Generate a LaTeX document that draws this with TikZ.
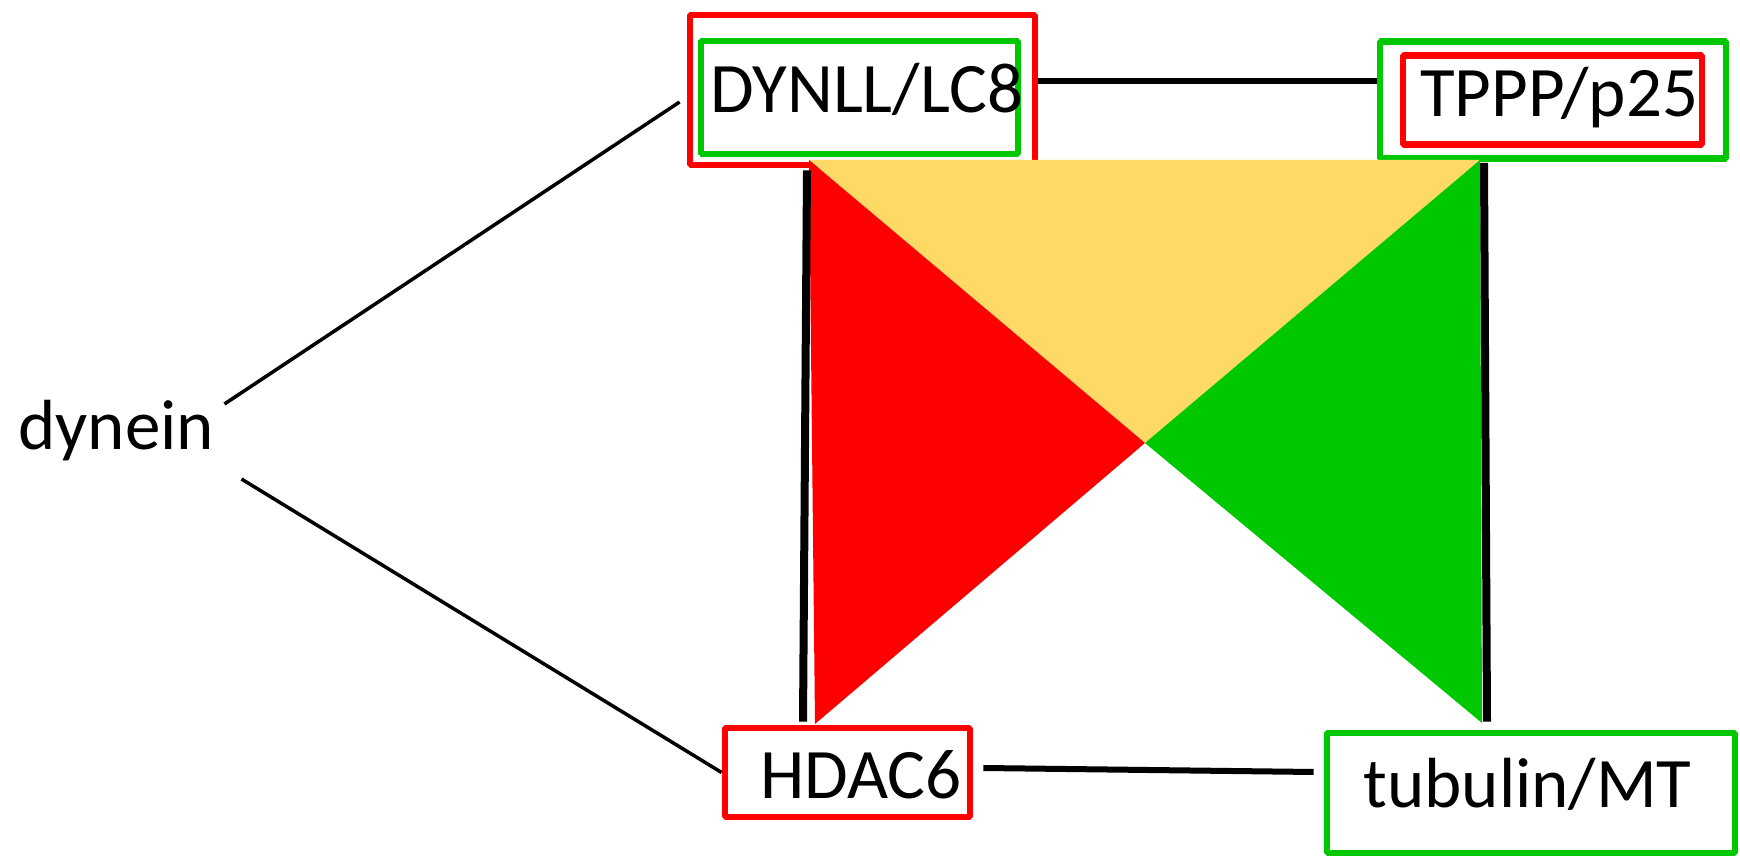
\documentclass[tikz,border=0pt]{standalone}
\usepackage{fontspec}
\setmainfont{Carlito}
\usepackage{tikz}
\usetikzlibrary{arrows,shapes}
\definecolor{ptred}{RGB}{255,0,0}
\definecolor{ptgreen}{RGB}{0,200,0}
\definecolor{ptgold}{RGB}{255,217,102}

\begin{document}
\begin{tikzpicture}[line join=bevel,
  redbox/.style={draw=ptred,line width=3.4bp,inner sep=0pt},
  greenbox/.style={draw=ptgreen,line width=3.4bp,inner sep=0pt},
  lbl/.style={inner sep=0pt,anchor=base west,font=\fontsize{35.5bp}{40bp}\selectfont},
  thinedge/.style={line width=1.75bp},
  thickedge/.style={line width=3bp},
  baredge/.style={line width=4bp},
]
%%
\useasboundingbox (0bp,0bp) rectangle (870bp,429.5bp);
%
  \node (dynllout) at (431.25bp,384.5bp) [redbox,minimum width=172.5bp,minimum height=75bp] {};
  \node (dynllin) at (429.75bp,380.75bp) [greenbox,minimum width=158.5bp,minimum height=56.5bp] {};
  \node (tpppout) at (776.5bp,379.5bp) [greenbox,minimum width=173bp,minimum height=58.5bp] {};
  \node (tpppin) at (776.25bp,379.5bp) [redbox,minimum width=149.5bp,minimum height=44.75bp] {};
  \node (hdac) at (423.75bp,43.25bp) [redbox,minimum width=122.5bp,minimum height=44.5bp] {};
  \node (tubulin) at (765.5bp,33.0bp) [greenbox,minimum width=204bp,minimum height=60bp] {};
%
  \node (dynlltxt) at (355.0bp,373.0bp) [lbl] {DYNLL/LC8};
  \node (tppptxt) at (710.0bp,371.0bp) [lbl] {TPPP/p25};
  \node (hdactxt) at (380.0bp,30.5bp) [lbl] {HDAC6};
  \node (tubulintxt) at (681.5bp,26.0bp) [lbl] {tubulin/MT};
  \node (dynein) at (9.0bp,204.5bp) [lbl] {dynein};
%
  \coordinate (tl) at (404.5bp,349.5bp);
  \coordinate (tr) at (740.0bp,349.5bp);
  \coordinate (mid) at (572.5bp,208.0bp);
  \coordinate (bl) at (407.5bp,67.5bp);
  \coordinate (br) at (741.0bp,68.0bp);
  \fill [ptgold] (tl) -- (tr) -- (mid) -- cycle;
  \fill [ptred] (tl) -- (mid) -- (bl) -- cycle;
  \fill [ptgreen] (tr) -- (mid) -- (br) -- cycle;
%
  \draw [thinedge] ([shift={(5bp,23bp)}]dynein.base east) -- ([shift={(-3.5bp,-6bp)}]dynllout.west);
  \draw [thinedge] ([shift={(13.5bp,-14.5bp)}]dynein.base east) -- (hdac.west);
  \draw [thickedge] ([shift={(0bp,4.5bp)}]dynllout.east) -- ([shift={(0bp,9.5bp)}]tpppout.west);
  \draw [thickedge] ([shift={(5bp,2.25bp)}]hdac.east) -- ([shift={(-5bp,10.5bp)}]tubulin.west);
  \draw [baredge] ([shift={(-27.75bp,-1bp)}]dynllout.south) -- ([shift={(-22.25bp,1.5bp)}]hdac.north);
  \draw [baredge] ([shift={(-34.5bp,-0.5bp)}]tpppout.south) -- ([shift={(-22bp,4bp)}]tubulin.north);
%
\end{tikzpicture}
\end{document}
